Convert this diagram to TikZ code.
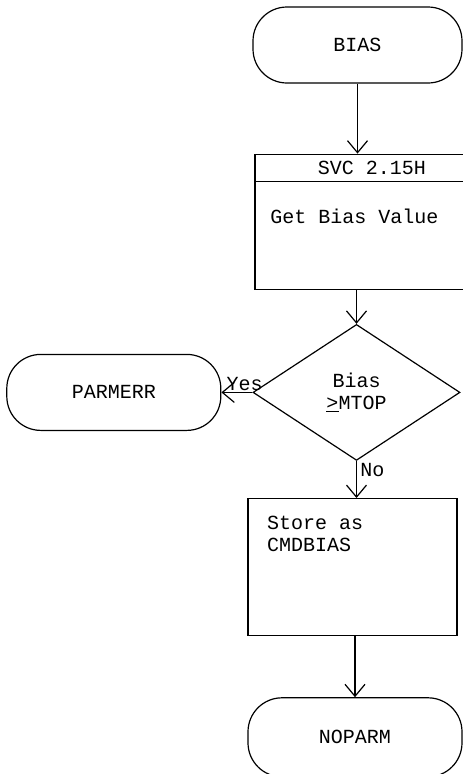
\documentclass[tikz,border=0pt]{standalone}
\usepackage{fontspec}
\setmonofont{Liberation Mono}
\usetikzlibrary{arrows.meta,positioning,shapes.geometric}

\begin{document}
\begin{tikzpicture}[>={Straight Barb[length=12pt,width=20pt]},line width=1.2pt,
  every node/.style={font=\ttfamily\fontsize{20}{22}\selectfont},
  term/.style={draw,rounded corners=34pt,minimum width=214pt,minimum height=76pt},
  proc/.style={draw,minimum width=209pt}]
\path[use as bounding box,clip] (0,0) rectangle (463pt,-774pt);
\node[term,minimum width=209pt] (bias) at (357.5pt,-45pt) {BIAS};
\node[proc,minimum width=234pt,minimum height=135pt,below=70pt of bias,xshift=14.5pt] (svc) {};
\node[draw,diamond,minimum width=207pt,minimum height=136pt,inner sep=0pt,align=center,below=34pt of svc,xshift=-15.5pt] (dec) {Bias\\\underline{>}MTOP};
\node[term,left=31pt of dec] (parm) {PARMERR};
\node[proc,minimum height=137pt,below=37pt of dec,xshift=-4pt] (store) {};
\node[term,minimum height=79pt,below=61pt of store,xshift=2.5pt] (noparm) {NOPARM};
% texts in the boxes
\node (svchd) at ([yshift=-14pt]svc.north) {SVC 2.15H};
\draw ([yshift=-28pt]svc.north west) -- ([yshift=-28pt]svc.north east);
\node[anchor=west] (svctxt) at ([shift={(12pt,-63pt)}]svc.north west) {Get Bias Value};
\node[anchor=north west,inner sep=0pt,align=left] (storetxt) at ([shift={(19pt,-18pt)}]store.north west) {Store as\\CMDBIAS};
% flow
\draw[->] (bias.south) -- (bias.south |- svc.north);
\draw[->] (dec.north |- svc.south) -- (dec.north);
\draw[->] (dec.west) -- node[above,pos=0.25,inner sep=1pt] {Yes} (parm.east);
\draw[->] (dec.south) -- node[right,pos=0.25] {No} (dec.south |- store.north);
\draw[->] (noparm.north |- store.south) -- (noparm.north);
\end{tikzpicture}
\end{document}
